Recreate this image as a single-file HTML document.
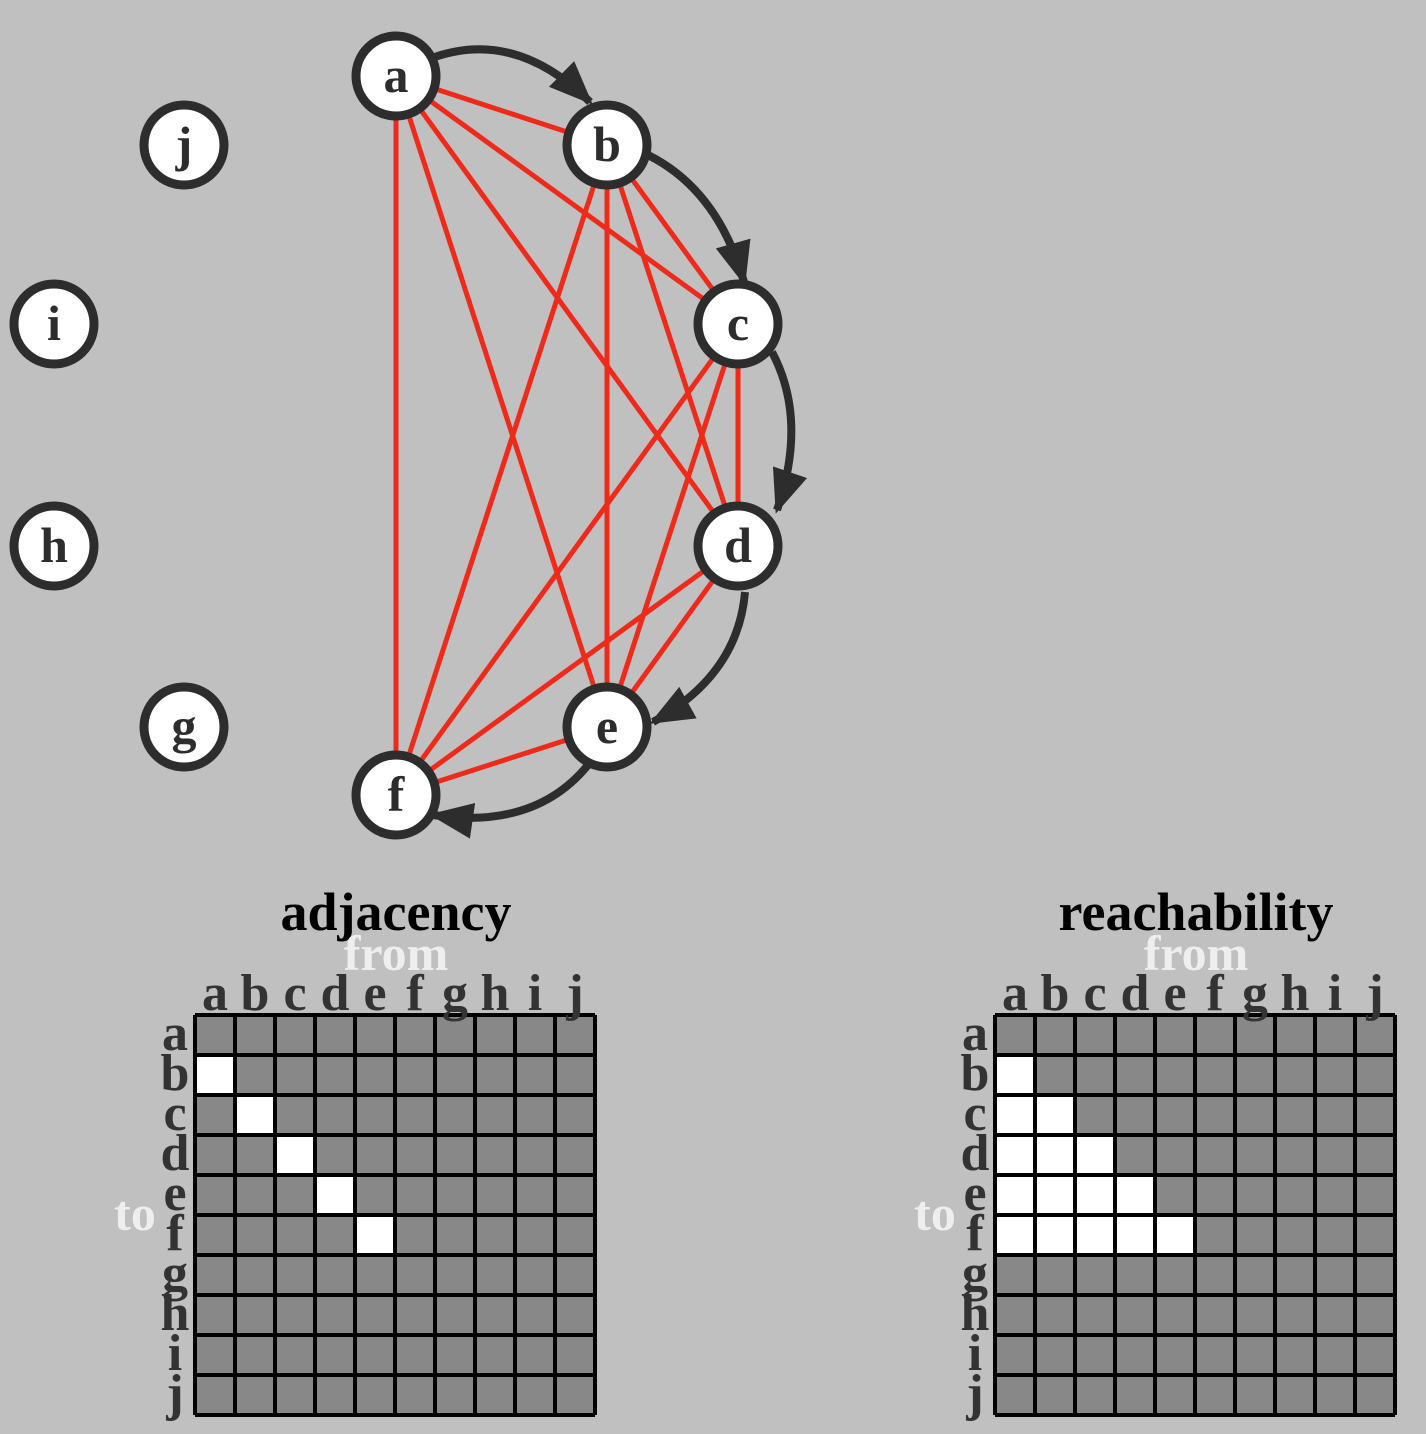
<!DOCTYPE html>
<html><head><meta charset="utf-8"><style>
html,body{margin:0;padding:0;background:#c0c0c0}
svg{display:block}
text{font-family:"Liberation Serif",serif;font-weight:bold}
</style></head><body>
<svg width="1426" height="1434" viewBox="0 0 1426 1434" xmlns="http://www.w3.org/2000/svg">
<defs>
<marker id="ah" markerUnits="userSpaceOnUse" markerWidth="46" markerHeight="38" refX="40" refY="18" orient="auto">
<path d="M0,0 L44,18 L0,36 Z" fill="#2d2d2d"/>
</marker>
</defs>
<rect width="1426" height="1434" fill="#c0c0c0"/>
<g stroke="#ee2a1b" stroke-width="5">
<line x1="396" y1="76" x2="607" y2="145"/>
<line x1="396" y1="76" x2="738" y2="324"/>
<line x1="396" y1="76" x2="738" y2="546"/>
<line x1="396" y1="76" x2="607" y2="727"/>
<line x1="396" y1="76" x2="396" y2="795"/>
<line x1="607" y1="145" x2="738" y2="324"/>
<line x1="607" y1="145" x2="738" y2="546"/>
<line x1="607" y1="145" x2="607" y2="727"/>
<line x1="607" y1="145" x2="396" y2="795"/>
<line x1="738" y1="324" x2="738" y2="546"/>
<line x1="738" y1="324" x2="607" y2="727"/>
<line x1="738" y1="324" x2="396" y2="795"/>
<line x1="738" y1="546" x2="607" y2="727"/>
<line x1="738" y1="546" x2="396" y2="795"/>
<line x1="607" y1="727" x2="396" y2="795"/>
</g>
<g stroke="#2d2d2d" stroke-width="8" fill="none" marker-end="url(#ah)">
<path d="M432,58 Q515,28 590,102"/>
<path d="M648,155 Q718,190 744,282"/>
<path d="M772,352 Q808,420 777,510"/>
<path d="M745,592 Q738,675 653,722"/>
<path d="M588,765 Q535,830 433,815"/>
</g>
<g fill="#fff" stroke="#2d2d2d" stroke-width="9">
<circle cx="396" cy="76" r="40"/><circle cx="607" cy="145" r="40"/>
<circle cx="738" cy="324" r="40"/><circle cx="738" cy="546" r="40"/>
<circle cx="607" cy="727" r="40"/><circle cx="396" cy="795" r="40"/>
<circle cx="184" cy="145" r="40"/><circle cx="54" cy="324" r="40"/>
<circle cx="54" cy="546" r="40"/><circle cx="184" cy="727" r="40"/>
</g>
<g fill="#2d2d2d" font-size="50" text-anchor="middle">
<text x="396" y="92">a</text><text x="607" y="161">b</text>
<text x="738" y="340">c</text><text x="738" y="562">d</text>
<text x="607" y="743">e</text><text x="396" y="811">f</text>
<text x="184" y="161">j</text><text x="54" y="340">i</text>
<text x="54" y="562">h</text><text x="184" y="743">g</text>
</g>

<!-- grids -->
<rect x="195" y="1015" width="400" height="400" fill="#888"/>
<rect x="995" y="1015" width="400" height="400" fill="#888"/>
<g fill="#fff">
<rect x="195" y="1055" width="40" height="40"/>
<rect x="235" y="1095" width="40" height="40"/>
<rect x="275" y="1135" width="40" height="40"/>
<rect x="315" y="1175" width="40" height="40"/>
<rect x="355" y="1215" width="40" height="40"/>
<rect x="995" y="1055" width="40" height="40"/>
<rect x="995" y="1095" width="80" height="40"/>
<rect x="995" y="1135" width="120" height="40"/>
<rect x="995" y="1175" width="160" height="40"/>
<rect x="995" y="1215" width="200" height="40"/>
</g>
<g stroke="#000" stroke-width="4" fill="none">
<path d="M195,1015V1415M235,1015V1415M275,1015V1415M315,1015V1415M355,1015V1415M395,1015V1415M435,1015V1415M475,1015V1415M515,1015V1415M555,1015V1415M595,1015V1415
M195,1015H595M195,1055H595M195,1095H595M195,1135H595M195,1175H595M195,1215H595M195,1255H595M195,1295H595M195,1335H595M195,1375H595M195,1415H595"/>
<path d="M995,1015V1415M1035,1015V1415M1075,1015V1415M1115,1015V1415M1155,1015V1415M1195,1015V1415M1235,1015V1415M1275,1015V1415M1315,1015V1415M1355,1015V1415M1395,1015V1415
M995,1015H1395M995,1055H1395M995,1095H1395M995,1135H1395M995,1175H1395M995,1215H1395M995,1255H1395M995,1295H1395M995,1335H1395M995,1375H1395M995,1415H1395"/>
</g>

<!-- left matrix labels -->
<text x="396" y="930" font-size="54" text-anchor="middle" fill="#000">adjacency</text>
<text x="396" y="970" font-size="50" text-anchor="middle" fill="#eee">from</text>
<text x="135" y="1230" font-size="50" text-anchor="middle" fill="#eee">to</text>
<g fill="#333" font-size="52" text-anchor="middle">
<text x="215" y="1010">a</text><text x="255" y="1010">b</text><text x="295" y="1010">c</text><text x="335" y="1010">d</text><text x="375" y="1010">e</text><text x="415" y="1010">f</text><text x="455" y="1010">g</text><text x="495" y="1010">h</text><text x="535" y="1010">i</text><text x="575" y="1010">j</text>
<text x="175" y="1050">a</text><text x="175" y="1090">b</text><text x="175" y="1130">c</text><text x="175" y="1170">d</text><text x="175" y="1210">e</text><text x="175" y="1250">f</text><text x="175" y="1290">g</text><text x="175" y="1330">h</text><text x="175" y="1370">i</text><text x="175" y="1410">j</text>
</g>
<!-- right matrix labels -->
<text x="1196" y="930" font-size="54" text-anchor="middle" fill="#000">reachability</text>
<text x="1196" y="970" font-size="50" text-anchor="middle" fill="#eee">from</text>
<text x="935" y="1230" font-size="50" text-anchor="middle" fill="#eee">to</text>
<g fill="#333" font-size="52" text-anchor="middle">
<text x="1015" y="1010">a</text><text x="1055" y="1010">b</text><text x="1095" y="1010">c</text><text x="1135" y="1010">d</text><text x="1175" y="1010">e</text><text x="1215" y="1010">f</text><text x="1255" y="1010">g</text><text x="1295" y="1010">h</text><text x="1335" y="1010">i</text><text x="1375" y="1010">j</text>
<text x="975" y="1050">a</text><text x="975" y="1090">b</text><text x="975" y="1130">c</text><text x="975" y="1170">d</text><text x="975" y="1210">e</text><text x="975" y="1250">f</text><text x="975" y="1290">g</text><text x="975" y="1330">h</text><text x="975" y="1370">i</text><text x="975" y="1410">j</text>
</g>
</svg>
</body></html>
